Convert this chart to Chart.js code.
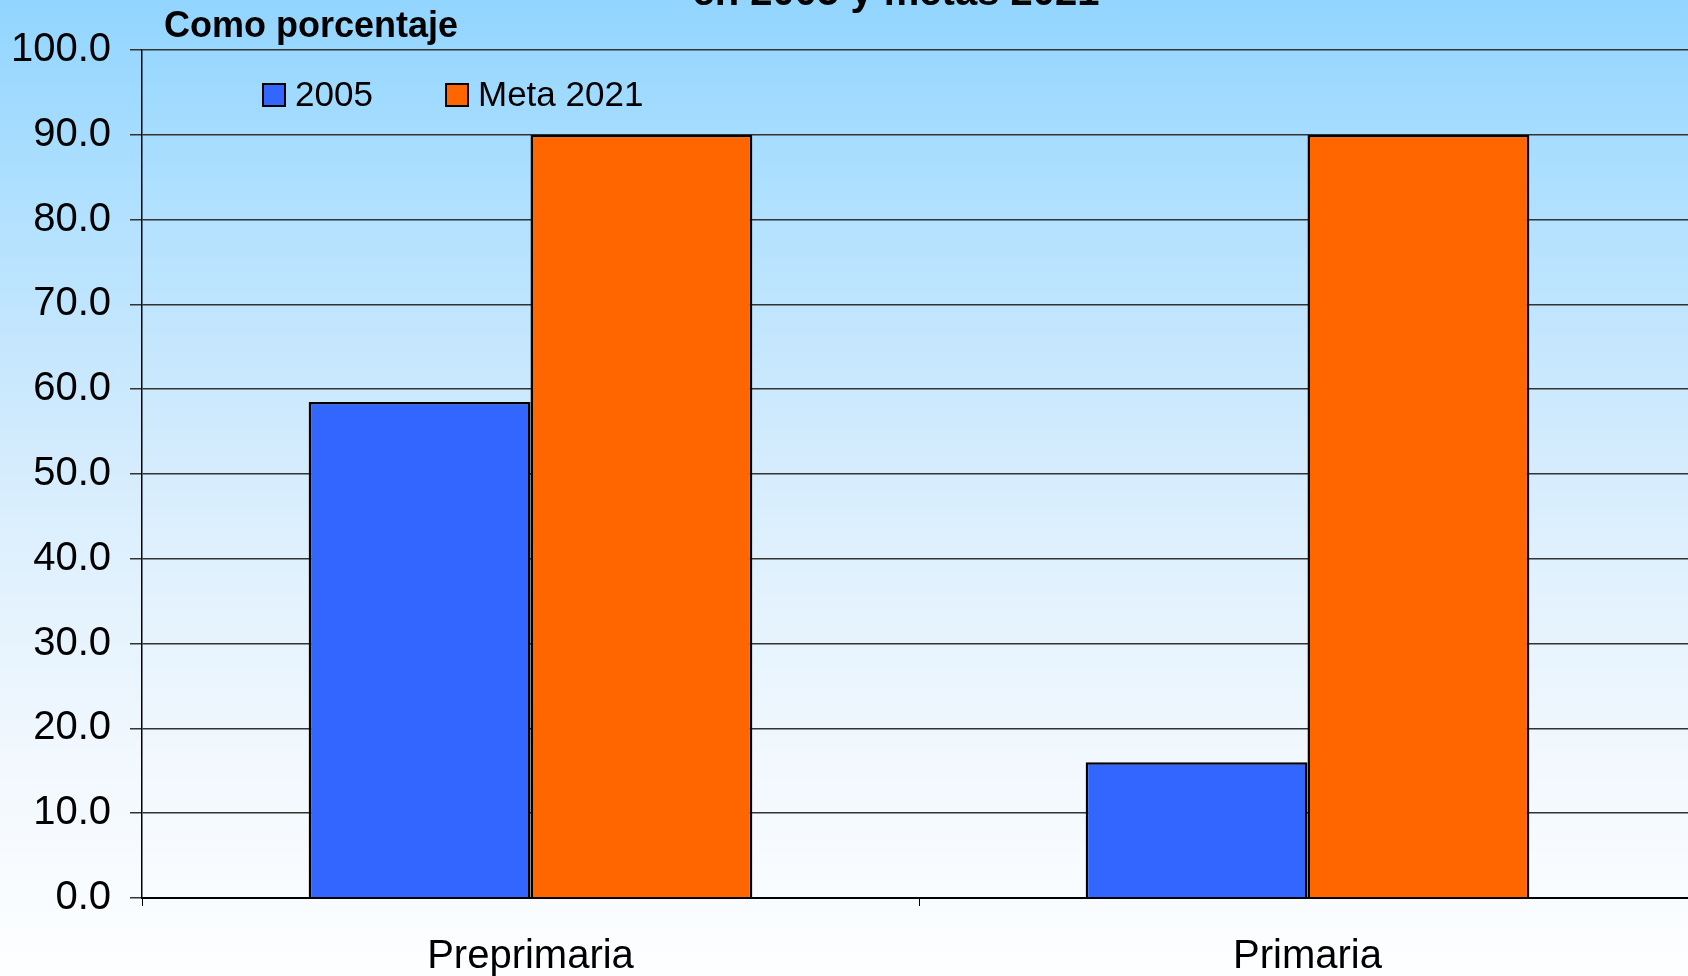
<!DOCTYPE html>
<html>
<head>
<meta charset="utf-8">
<script src="https://cdn.jsdelivr.net/npm/chart.js@4.4.1/dist/chart.umd.min.js"></script>
<style>
html,body{margin:0;padding:0;overflow:hidden;width:1688px;height:976px;background:#fff;}
#wrap{position:absolute;left:0;top:0;width:1700px;height:976px;}
</style>
</head>
<body>
<div id="wrap"><canvas id="c" width="1700" height="976"></canvas></div>
<script>
const categories = ["Preprimaria", "Primaria"];
const series2005 = [58.5, 16.0];
const seriesMeta2021 = [90.0, 90.0];
const seriesLabels = ["2005", "Meta 2021"];
const yTicks = [0, 10, 20, 30, 40, 50, 60, 70, 80, 90, 100];
const titleText = "en 2005 y metas 2021";
const unitText = "Como porcentaje";

const FONT = "'Liberation Sans', Arial, sans-serif";

const bgPlugin = {
  id: 'bg',
  beforeDraw(chart) {
    const ctx = chart.ctx;
    const g = ctx.createLinearGradient(0, 0, 0, chart.height);
    g.addColorStop(0, '#92D5FF');
    g.addColorStop(0.1, '#A0DAFF');
    g.addColorStop(0.2, '#AFE0FF');
    g.addColorStop(0.41, '#CDE9FD');
    g.addColorStop(0.56, '#DEF0FD');
    g.addColorStop(0.78, '#F2F8FE');
    g.addColorStop(1, '#FDFEFF');
    ctx.save();
    ctx.fillStyle = g;
    ctx.fillRect(0, 0, chart.width, chart.height);
    ctx.restore();
  }
};

const textPlugin = {
  id: 'texts',
  afterDraw(chart) {
    const ctx = chart.ctx;
    ctx.save();
    ctx.fillStyle = '#000';
    ctx.textBaseline = 'alphabetic';
    ctx.font = "bold 40px " + FONT;
    ctx.textAlign = 'center';
    ctx.fillText(titleText, 896, 5);
    ctx.font = "bold 36px " + FONT;
    ctx.textAlign = 'left';
    ctx.fillText(unitText, 164, 37);
    const ds = chart.data.datasets;
    const xs = [263, 446];
    ctx.font = "35px " + FONT;
    ctx.textBaseline = 'middle';
    ds.forEach((d, i) => {
      const x = xs[i];
      ctx.fillStyle = d.backgroundColor;
      ctx.fillRect(x, 84, 22, 22);
      ctx.lineWidth = 2;
      ctx.strokeStyle = '#000';
      ctx.strokeRect(x, 84, 22, 22);
      ctx.fillStyle = '#000';
      ctx.fillText(d.label, x + 32, 96);
    });
    ctx.restore();
  }
};

new Chart(document.getElementById('c'), {
  type: 'bar',
  data: {
    labels: categories,
    datasets: [
      { label: seriesLabels[0], data: series2005, backgroundColor: '#3366FF', borderColor: '#000', borderWidth: 2.5, borderSkipped: 'start' },
      { label: seriesLabels[1], data: seriesMeta2021, backgroundColor: '#FF6600', borderColor: '#000', borderWidth: 2.5, borderSkipped: 'start' }
    ]
  },
  options: {
    responsive: false,
    animation: false,
    devicePixelRatio: 1,
    layout: { padding: { top: 50, right: 4, left: 0, bottom: 0 } },
    datasets: { bar: { categoryPercentage: 0.571, barPercentage: 1.0 } },
    plugins: { legend: { display: false }, tooltip: { enabled: false }, title: { display: false } },
    scales: {
      x: {
        afterFit(scale) { scale.height = 78; },
        grid: { drawOnChartArea: false, drawTicks: true, tickLength: 8, color: '#000', lineWidth: 1 },
        border: { display: true, color: '#000', width: 2 },
        ticks: { color: '#000', font: { family: FONT, size: 40 }, padding: 27, maxRotation: 0 }
      },
      y: {
        min: 0, max: 100,
        afterFit(scale) { scale.width = 142; },
        afterBuildTicks(scale) { scale.ticks = yTicks.map(v => ({ value: v })); },
        grid: { color: '#333', lineWidth: 1.5, tickLength: 12, drawTicks: true },
        border: { display: true, color: '#000', width: 1.5 },
        ticks: { color: '#000', font: { family: FONT, size: 40 }, padding: 19, callback: v => Number(v).toFixed(1) }
      }
    }
  },
  plugins: [bgPlugin, textPlugin]
});
</script>
</body>
</html>
